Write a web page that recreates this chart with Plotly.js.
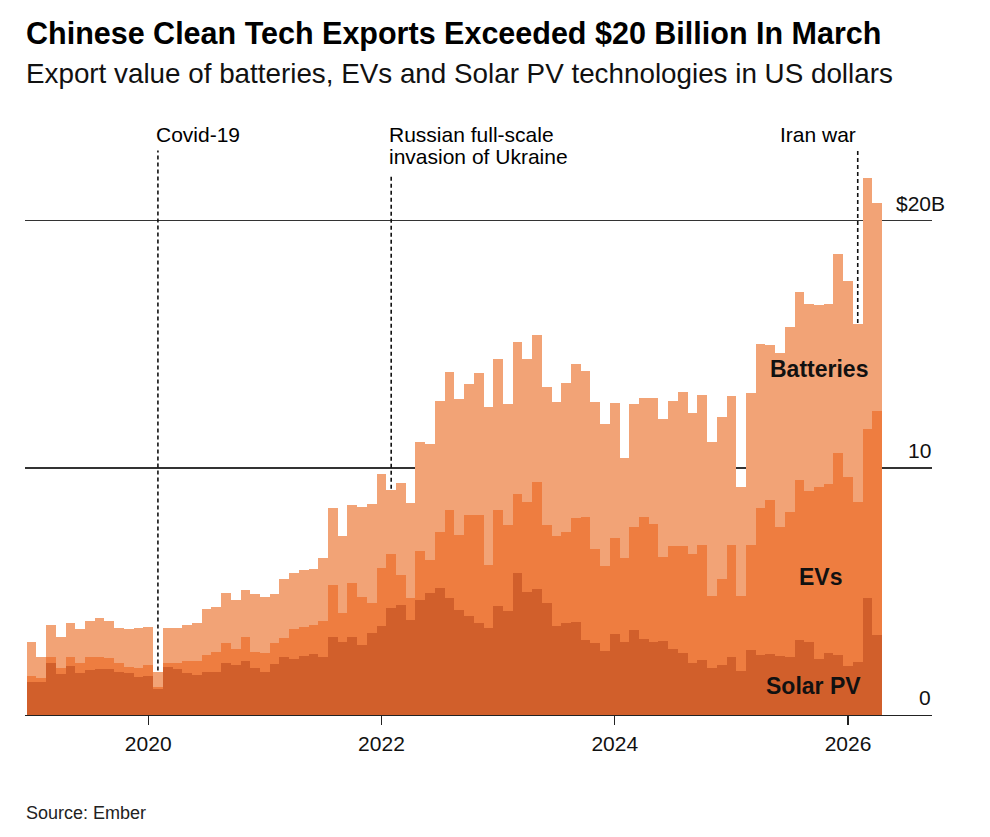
<!DOCTYPE html>
<html>
<head>
<meta charset="utf-8">
<script src="https://cdn.plot.ly/plotly-3.0.1.min.js"></script>
<style>
  html, body { margin: 0; padding: 0; background: #ffffff; }
  #chart { width: 990px; height: 837px; }
</style>
</head>
<body>
<div id="chart"></div>
<script>
// Monthly export value, billion US dollars, Jan 2019 – Apr 2026 (88 months)
const startYear = 2019;
const monthCount = 88;

const solarPV = [
  1.35, 1.35, 2.12, 1.66, 1.98, 1.71, 1.82, 1.88, 1.88, 1.75, 1.69, 1.55,
  1.58, 1.04, 1.95, 1.85, 1.70, 1.62, 1.73, 1.75, 2.12, 2.02, 2.20, 1.89,
  1.73, 2.06, 2.36, 2.25, 2.39, 2.47, 2.33, 3.17, 2.97, 3.17, 2.83, 3.30,
  3.60, 4.32, 4.45, 3.85, 4.66, 4.95, 5.16, 4.75, 4.25, 4.02, 3.74, 3.51,
  4.41, 4.21, 5.76, 4.99, 5.09, 4.52, 3.60, 3.74, 3.78, 3.04, 2.90, 2.60,
  3.28, 2.97, 3.44, 3.06, 2.97, 3.00, 2.67, 2.52, 2.09, 2.23, 1.89, 2.02,
  2.35, 1.77, 2.62, 2.41, 2.48, 2.37, 2.34, 3.05, 2.94, 2.27, 2.51, 2.41,
  1.98, 2.13, 4.72, 3.22
];

const evs = [
  0.23, 0.13, 0.21, 0.23, 0.35, 0.38, 0.51, 0.45, 0.41, 0.37, 0.24, 0.34,
  0.43, 0.11, 0.14, 0.27, 0.50, 0.58, 0.70, 0.79, 0.81, 0.64, 0.94, 0.67,
  0.77, 0.87, 0.74, 1.22, 1.19, 1.17, 1.49, 2.09, 1.17, 2.16, 1.96, 1.22,
  2.34, 2.20, 1.22, 0.87, 1.98, 1.33, 2.26, 3.55, 3.04, 4.08, 4.36, 2.56,
  3.89, 3.48, 3.19, 3.65, 4.33, 3.17, 3.65, 3.66, 4.21, 4.96, 3.82, 3.45,
  3.90, 3.40, 4.18, 4.94, 4.76, 3.41, 4.15, 4.30, 4.41, 4.65, 2.93, 3.47,
  4.55, 3.05, 4.26, 5.96, 6.24, 5.25, 5.89, 6.48, 6.14, 6.95, 6.85, 8.19,
  7.67, 6.48, 6.87, 9.08
];

const batteries = [
  1.39, 0.88, 1.33, 1.28, 1.38, 1.38, 1.46, 1.61, 1.50, 1.39, 1.54, 1.62,
  1.57, 0.60, 1.45, 1.39, 1.43, 1.51, 1.87, 1.85, 2.02, 2.00, 1.92, 2.33,
  2.29, 1.97, 2.39, 2.27, 2.29, 2.28, 2.52, 3.13, 3.11, 3.15, 3.64, 4.00,
  3.83, 2.59, 3.71, 3.88, 4.39, 4.68, 5.29, 5.60, 5.49, 5.30, 5.73, 6.39,
  6.11, 4.90, 6.16, 5.77, 5.94, 5.60, 5.40, 6.05, 6.22, 5.93, 5.93, 5.72,
  5.44, 4.02, 4.96, 4.82, 5.09, 5.57, 5.87, 6.27, 5.74, 6.08, 6.21, 6.56,
  6.02, 4.41, 6.17, 6.63, 6.25, 7.04, 7.49, 7.60, 7.55, 7.38, 7.28, 8.06,
  7.90, 7.21, 10.16, 8.42
];

const seriesNames = ['Solar PV', 'EVs', 'Batteries'];
const tickMonths = ['2020-01', '2022-01', '2024-01', '2026-01'];
const tickLabels = ['2020', '2022', '2024', '2026'];
const yLabelValues = [20, 10, 0];
const yLabelTexts = ['$20B', '10', '0'];
const eventMonths = ['2020-02', '2022-02', '2026-02'];
const eventLabels = [['Covid-19'], ['Russian full-scale', 'invasion of Ukraine'], ['Iran war']];

// month category labels
const months = [];
for (let k = 0; k < monthCount; k++) {
  const y = startYear + Math.floor(k / 12);
  const m = (k % 12) + 1;
  months.push(y + '-' + String(m).padStart(2, '0'));
}

const colors = ['#d15f2b', '#ee7d40', '#f2a376'];
const FONT = 'Liberation Sans, Arial, Helvetica, sans-serif';

const traces = [solarPV, evs, batteries].map((vals, k) => ({
  type: 'bar',
  x: months,
  y: vals,
  name: seriesNames[k],
  marker: { color: colors[k], line: { width: 0 } },
  hoverinfo: 'x+y+name'
}));

const totals = months.map((_, i) => solarPV[i] + evs[i] + batteries[i]);

// event dashed lines
const eventTop = [22.85, 21.8, 22.85];
const shapes = eventMonths.map((mo, k) => {
  const i = months.indexOf(mo);
  return {
    type: 'line', xref: 'x', yref: 'y',
    x0: i, x1: i, y0: totals[i] + 0.05, y1: eventTop[k],
    line: { color: '#111', width: 1.6, dash: '4px,3px' },
    layer: 'above'
  };
});

const annotations = [];

// title & subtitle & source
annotations.push({
  xref: 'paper', yref: 'paper', x: 0, y: 1.150, xanchor: 'left', yanchor: 'middle',
  text: '<b>Chinese Clean Tech Exports Exceeded $20 Billion In March</b>',
  showarrow: false, font: { family: FONT, size: 30.5, color: '#000' }, xshift: -1
});
annotations.push({
  xref: 'paper', yref: 'paper', x: 0, y: 1.081, xanchor: 'left', yanchor: 'middle',
  text: 'Export value of batteries, EVs and Solar PV technologies in US dollars',
  showarrow: false, font: { family: FONT, size: 27.8, color: '#111' }, xshift: -1
});
annotations.push({
  xref: 'paper', yref: 'paper', x: 0, y: -0.165, xanchor: 'left', yanchor: 'middle',
  text: 'Source: Ember',
  showarrow: false, font: { family: FONT, size: 18, color: '#222' }, xshift: -1
});

// event labels
const eventLineY = [23.48, 22.62];
eventMonths.forEach((mo, k) => {
  const i = months.indexOf(mo);
  const right = (k === 2);
  eventLabels[k].forEach((line, j) => {
    annotations.push({
      xref: 'x', yref: 'y', x: i, y: eventLineY[j],
      xanchor: right ? 'right' : 'left', yanchor: 'middle',
      xshift: right ? 0 : -4,
      text: line, showarrow: false,
      font: { family: FONT, size: 21, color: '#000' }
    });
  });
});

// value labels at right
yLabelValues.forEach((v, k) => {
  annotations.push({
    xref: 'paper', yref: 'y', x: 1, y: v,
    xanchor: 'right', yanchor: 'bottom', yshift: 4,
    xshift: k === 0 ? 15 : 1,
    text: yLabelTexts[k], showarrow: false,
    font: { family: FONT, size: 21, color: '#111' }
  });
});

// series labels on the areas
const areaLabelPos = [[80.4, 1.17], [81.2, 5.59], [81.0, 14.0]];
seriesNames.forEach((nm, k) => {
  annotations.push({
    xref: 'x', yref: 'y', x: areaLabelPos[k][0], y: areaLabelPos[k][1],
    xanchor: 'center', yanchor: 'middle',
    text: '<b>' + nm + '</b>', showarrow: false,
    font: { family: FONT, size: 23, color: '#111' }
  });
});

const layout = {
  width: 990, height: 837,
  margin: { l: 25, r: 58, t: 122, b: 122, pad: 0 },
  paper_bgcolor: '#ffffff', plot_bgcolor: '#ffffff',
  barmode: 'stack', bargap: 0,
  showlegend: false,
  font: { family: FONT, color: '#111' },
  xaxis: {
    type: 'category',
    range: [-0.675, 92.64],
    tickmode: 'array', tickvals: tickMonths, ticktext: tickLabels,
    ticks: 'outside', ticklen: 9, tickwidth: 1.3, tickcolor: '#222',
    tickfont: { family: FONT, size: 21, color: '#111' },
    showline: true, linecolor: '#222', linewidth: 1.3,
    showgrid: false, zeroline: false, fixedrange: true
  },
  yaxis: {
    range: [0, 24],
    tickmode: 'array', tickvals: [10, 20],
    showticklabels: false, ticks: '',
    showgrid: true, gridcolor: '#333', gridwidth: 1.3,
    zeroline: false, showline: false, fixedrange: true
  },
  shapes: shapes,
  annotations: annotations
};

Plotly.newPlot('chart', traces, layout, { displayModeBar: false, staticPlot: true });
</script>
</body>
</html>
